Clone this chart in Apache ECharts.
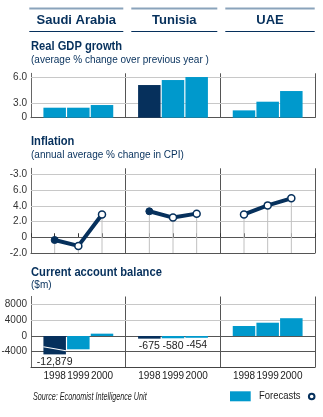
<!DOCTYPE html>
<html>
<head>
<meta charset="utf-8">
<script src="https://cdn.jsdelivr.net/npm/echarts@6/dist/echarts.min.js"></script>
<style>
html,body{margin:0;padding:0;background:#fff;}
#chart{width:323px;height:417px;}
</style>
</head>
<body>
<div id="chart"></div>
<script>
// ---------- DATA ----------
const countries = ['Saudi Arabia', 'Tunisia', 'UAE'];
const years = ['1998', '1999', '2000'];

// Real GDP growth (% change)
const gdpSaudi   = [1.5, 1.5, 1.9];
const gdpTunisia = [4.9, 5.65, 6.1];
const gdpUAE     = [1.1, 2.4, 4.0];
const gdpActual  = [[false, false, false], [true, false, false], [false, false, false]];
const gdpTickValues = [0, 2.16, 6.0];
const gdpTickLabels = ['0', '3.0', '6.0'];

// Inflation (% change in CPI)
const inflSaudi   = [-0.35, -1.1, 2.9];
const inflTunisia = [3.3, 2.5, 3.0];
const inflUAE     = [2.9, 4.05, 4.95];
const inflActual  = [[true, false, false], [true, false, false], [false, false, false]];
const inflTickValues = [-2, 0, 2, 4, 6, 8];
const inflTickLabels = ['-2.0', '0', '2.0', '4.0', '6.0', '-3.0'];

// Current account balance ($m)
const caSaudi   = [-12879, -3400, 600];
const caTunisia = [-675, -580, -454];
const caUAE     = [2560, 3400, 4550];
const caActual  = [[true, false, false], [true, false, false], [false, false, false]];
const caValueLabels = [['-12,879', '', ''], ['-675', '-580', '-454'], ['', '', '']];
const caTickValues = [-4000, 0, 4000, 8000];
const caTickLabels = ['-4000', '0', '4000', '8000'];
const caBreakValue = -4700; // bars beyond this are drawn broken

// ---------- STYLE / LAYOUT ----------
const NAVY = '#06305c';
const BLUE = '#0099cc';
const FONT = '"Liberation Sans", Arial, sans-serif';
const gdpSeries = [gdpSaudi, gdpTunisia, gdpUAE];
const inflSeries = [inflSaudi, inflTunisia, inflUAE];
const caSeries = [caSaudi, caTunisia, caUAE];
const xPos = (p, i) => p * 4 + i + 1;

const grids = [
  {left: 31, top: 73.3, width: 284, height: 44.4},
  {left: 31, top: 168.3, width: 284, height: 84.7},
  {left: 31, top: 296.5, width: 284, height: 70.8}
];
const yRanges = [[0, 6.66], [-2, 8.76], [-8000, 10100]];

function gridLines(values, labels, darkSet) {
  return {
    silent: true, z: 1, animation: false,
    symbol: ['none', 'none'],
    label: {position: 'start', distance: 4, fontSize: 10, color: '#333', fontFamily: FONT},
    data: values.map((v, i) => ({
      yAxis: v,
      label: {formatter: labels[i]},
      lineStyle: {color: darkSet.includes(v) ? '#555' : '#c8c8c8', width: 1, type: 'solid'}
    }))
  };
}

const xAxes = [], yAxes = [];
grids.forEach((g, gi) => {
  xAxes.push({
    type: 'value', gridIndex: gi, min: 0, max: 12, interval: 4,
    axisLine: {show: true, onZero: false, lineStyle: {color: '#444', width: 1}},
    axisTick: {show: false}, axisLabel: {show: false},
    splitLine: {show: true, lineStyle: {color: '#555', width: 1}}
  });
  xAxes.push({
    type: 'value', gridIndex: gi, min: 0, max: 12, interval: 1, position: 'bottom',
    axisLine: {show: false},
    axisTick: {show: gi === 1, inside: true, length: 4, lineStyle: {color: '#333'}},
    axisLabel: {
      show: gi === 2, fontSize: 10, color: '#222', fontFamily: FONT, margin: 4,
      formatter: v => (v % 4 === 0 ? '' : years[(v % 4) - 1])
    },
    splitLine: {show: false}
  });
  yAxes.push({
    type: 'value', gridIndex: gi, min: yRanges[gi][0], max: yRanges[gi][1],
    axisLine: {show: true, onZero: false, lineStyle: {color: '#666'}},
    axisTick: {show: false}, axisLabel: {show: false}, splitLine: {show: false}
  });
});

const series = [];

// GDP bars
const gdpData = [];
gdpSeries.forEach((arr, p) => arr.forEach((v, i) => gdpData.push({
  value: [xPos(p, i), v],
  itemStyle: {color: gdpActual[p][i] ? NAVY : BLUE}
})));
series.push({
  type: 'bar', xAxisIndex: 0, yAxisIndex: 0, barWidth: 22.5, z: 2,
  data: gdpData, markLine: gridLines(gdpTickValues, gdpTickLabels, [0])
});

// Inflation drop lines
const dropData = [];
inflSeries.forEach((arr, p) => arr.forEach((v, i) => dropData.push([xPos(p, i), v])));
series.push({
  type: 'custom', xAxisIndex: 2, yAxisIndex: 1, z: 1,
  data: dropData,
  renderItem: (params, api) => {
    const a = api.coord([api.value(0), yRanges[1][0]]);
    const b = api.coord([api.value(0), api.value(1)]);
    return {type: 'line', shape: {x1: a[0], y1: a[1], x2: b[0], y2: b[1]},
      style: {stroke: '#c0c0c0', lineWidth: 1}};
  }
});
// Inflation lines
inflSeries.forEach((arr, p) => {
  const s = {
    type: 'line', xAxisIndex: 2, yAxisIndex: 1, z: 3,
    symbol: 'circle', symbolSize: 7,
    lineStyle: {color: NAVY, width: 4},
    data: arr.map((v, i) => ({
      value: [xPos(p, i), v],
      itemStyle: inflActual[p][i]
        ? {color: NAVY, borderColor: NAVY, borderWidth: 1}
        : {color: '#fff', borderColor: NAVY, borderWidth: 1.5}
    }))
  };
  if (p === 0) s.markLine = gridLines(inflTickValues, inflTickLabels, [0, -2]);
  series.push(s);
});

// Current account bars
const caData = [], breakData = [];
caSeries.forEach((arr, p) => arr.forEach((v, i) => {
  const shown = Math.max(v, caBreakValue);
  if (v < caBreakValue) breakData.push([xPos(p, i), caBreakValue]);
  caData.push({
    value: [xPos(p, i), shown],
    itemStyle: {color: caActual[p][i] ? NAVY : BLUE},
    label: {show: caValueLabels[p][i] !== '', formatter: caValueLabels[p][i]}
  });
}));
series.push({
  type: 'bar', xAxisIndex: 4, yAxisIndex: 2, barWidth: 22.5, z: 2,
  data: caData,
  label: {position: 'outside', distance: 2, fontSize: 10.5, color: '#222', fontFamily: FONT},
  markLine: gridLines(caTickValues, caTickLabels, [0, -4000])
});
series.push({
  type: 'custom', xAxisIndex: 4, yAxisIndex: 2, z: 4,
  data: breakData,
  renderItem: (params, api) => {
    const x = api.value(0), y = api.value(1);
    const a = api.coord([x - 0.48, y + 1950]);
    const b = api.coord([x + 0.48, y + 930]);
    return {type: 'line', shape: {x1: a[0], y1: a[1], x2: b[0], y2: b[1]},
      style: {stroke: '#fff', lineWidth: 1.2}};
  }
});

// ---------- GRAPHICS (headers, titles, legend) ----------
const headerSpans = [[29.3, 123.3], [131.3, 217.3], [225.3, 314.7]];
const graphic = [];
headerSpans.forEach((s, k) => {
  graphic.push({type: 'line', shape: {x1: s[0], y1: 8.5, x2: s[1], y2: 8.5},
    style: {stroke: '#8aa3bb', lineWidth: 2}, silent: true});
  graphic.push({type: 'line', shape: {x1: s[0], y1: 31.5, x2: s[1], y2: 31.5},
    style: {stroke: NAVY, lineWidth: 1.2}, silent: true});
  graphic.push({type: 'text', x: (s[0] + s[1]) / 2, y: 20,
    style: {text: countries[k], font: 'bold 13px ' + FONT, fill: NAVY,
      textAlign: 'center', textVerticalAlign: 'middle'}});
});
function title(t, sub, y) {
  graphic.push({type: 'text', x: 31, y: y, scaleX: 0.93,
    style: {text: t, font: 'bold 12px ' + FONT, fill: NAVY, textVerticalAlign: 'middle'}});
  graphic.push({type: 'text', x: 31, y: y + 13.3,
    style: {text: sub, font: '10px ' + FONT, fill: NAVY, textVerticalAlign: 'middle'}});
}
title('Real GDP growth', '(average % change over previous year )', 47);
title('Inflation', '(annual average % change in CPI)', 141.7);
title('Current account balance', '($m)', 272.3);

graphic.push({type: 'text', x: 33, y: 397, scaleX: 0.72,
  style: {text: 'Source: Economist Intelligence Unit', font: 'italic 10px ' + FONT,
    fill: '#222', textVerticalAlign: 'middle'}});
graphic.push({type: 'rect', shape: {x: 230, y: 391.3, width: 20.7, height: 10},
  style: {fill: BLUE}});
graphic.push({type: 'text', x: 259, y: 396.3, scaleX: 0.86,
  style: {text: 'Forecasts', font: '11px ' + FONT, fill: '#222', textVerticalAlign: 'middle'}});
graphic.push({type: 'circle', shape: {cx: 311.7, cy: 396.5, r: 2.8},
  style: {fill: '#fff', stroke: NAVY, lineWidth: 2}});

const chart = echarts.init(document.getElementById('chart'), null, {renderer: 'canvas'});
chart.setOption({
  backgroundColor: '#fff',
  animation: false,
  textStyle: {fontFamily: FONT},
  grid: grids,
  xAxis: xAxes,
  yAxis: yAxes,
  series: series,
  graphic: graphic
});
</script>
</body>
</html>
